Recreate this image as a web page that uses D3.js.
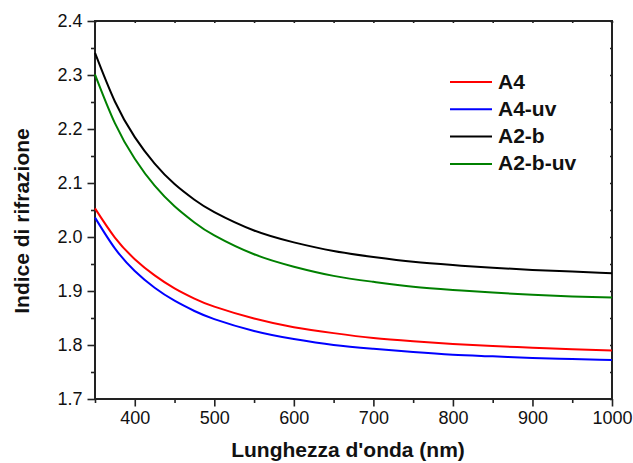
<!DOCTYPE html>
<html>
<head>
<meta charset="utf-8">
<script src="https://cdn.jsdelivr.net/npm/d3@7/dist/d3.min.js"></script>
<style>
html,body{margin:0;padding:0;background:#fff;}
svg{display:block;font-family:Arial,"Liberation Sans",sans-serif;}
</style>
</head>
<body>
<svg id="chart" width="633" height="463"></svg>
<script>
const wavelengths = [350,375,400,425,450,475,500,550,600,650,700,750,800,850,900,950,1000];
const seriesNames = ["A4","A4-uv","A2-b","A2-b-uv"];
const seriesColors = ["#ff0000","#0000ff","#000000","#008000"];
const A4      = [2.053,1.999,1.959,1.929,1.905,1.886,1.871,1.849,1.833,1.822,1.813,1.807,1.802,1.798,1.795,1.792,1.790];
const A4uv    = [2.036,1.979,1.937,1.906,1.882,1.863,1.848,1.826,1.811,1.800,1.793,1.787,1.782,1.779,1.776,1.774,1.772];
const A2b     = [2.341,2.251,2.185,2.136,2.098,2.069,2.046,2.012,1.990,1.974,1.963,1.954,1.948,1.943,1.939,1.936,1.933];
const A2buv   = [2.301,2.211,2.145,2.095,2.057,2.027,2.003,1.968,1.945,1.928,1.917,1.908,1.902,1.897,1.893,1.890,1.888];
const seriesValues = [A4, A4uv, A2b, A2buv];
const xMajorTicks = [400,500,600,700,800,900,1000];
const xMinorTicks = [350,450,550,650,750,850,950];
const yMajorTicks = [1.7,1.8,1.9,2.0,2.1,2.2,2.3,2.4];
const yMinorTicks = [1.75,1.85,1.95,2.05,2.15,2.25,2.35];
const xTitle = "Lunghezza d'onda (nm)";
const yTitle = "Indice di rifrazione";

const svg = d3.select("#chart");
const m = {left:95, top:21, right:612, bottom:399};
const x = d3.scaleLinear().domain([350,1000]).range([m.left, m.right]);
const y = d3.scaleLinear().domain([1.7,2.4]).range([m.bottom, m.top]);
const axisColor = "#222";

function styleAxis(g){
  g.select(".domain").remove();
  g.selectAll("line").attr("stroke", axisColor).attr("stroke-width", 1.6);
  g.selectAll("text").attr("fill","#111").style("font-size","18px").style("font-family","Arial, 'Liberation Sans', sans-serif");
}

// bottom axis
svg.append("g").attr("transform",`translate(0,${m.bottom})`)
  .call(d3.axisBottom(x).tickValues(xMajorTicks).tickFormat(d3.format("d")).tickSize(7.5).tickPadding(5))
  .call(styleAxis);
svg.append("g").attr("transform",`translate(0,${m.bottom})`)
  .call(d3.axisBottom(x).tickValues(xMinorTicks).tickFormat("").tickSize(4))
  .call(styleAxis);
// left axis
svg.append("g").attr("transform",`translate(${m.left},0)`)
  .call(d3.axisLeft(y).tickValues(yMajorTicks).tickFormat(d3.format(".1f")).tickSize(7.5).tickPadding(5))
  .call(styleAxis);
svg.append("g").attr("transform",`translate(${m.left},0)`)
  .call(d3.axisLeft(y).tickValues(yMinorTicks).tickFormat("").tickSize(4))
  .call(styleAxis);
// top and right tiny inward ticks
svg.append("g").attr("transform",`translate(0,${m.top})`)
  .call(d3.axisTop(x).tickValues(xMajorTicks.concat(xMinorTicks)).tickFormat("").tickSize(-2))
  .call(styleAxis);
svg.append("g").attr("transform",`translate(${m.right},0)`)
  .call(d3.axisRight(y).tickValues(yMajorTicks.concat(yMinorTicks)).tickFormat("").tickSize(-2))
  .call(styleAxis);

// frame
svg.append("rect").attr("x",m.left).attr("y",m.top)
  .attr("width",m.right-m.left).attr("height",m.bottom-m.top)
  .attr("fill","none").attr("stroke",axisColor).attr("stroke-width",2);

// lines
const line = d3.line().x((d,i)=>x(wavelengths[i])).y(d=>y(d)).curve(d3.curveNatural);
seriesValues.forEach((vals,k)=>{
  svg.append("path").datum(vals).attr("d",line)
    .attr("fill","none").attr("stroke",seriesColors[k]).attr("stroke-width",2);
});

// legend
const leg = svg.append("g");
seriesNames.forEach((name,k)=>{
  const yy = 82 + k*27.3;
  leg.append("line").attr("x1",450).attr("x2",492).attr("y1",yy).attr("y2",yy)
    .attr("stroke",seriesColors[k]).attr("stroke-width",2);
  leg.append("text").attr("x",498).attr("y",yy+6.5).text(name)
    .style("font-size","21px").style("font-weight","bold").attr("fill","#111");
});

// titles
svg.append("text").attr("x",348).attr("y",457).attr("text-anchor","middle")
  .text(xTitle).style("font-size","21px").style("font-weight","bold").attr("fill","#111");
svg.append("text").attr("transform",`translate(29,221) rotate(-90)`)
  .attr("text-anchor","middle").text(yTitle)
  .style("font-size","21px").style("font-weight","bold").attr("fill","#111");
</script>
</body>
</html>
